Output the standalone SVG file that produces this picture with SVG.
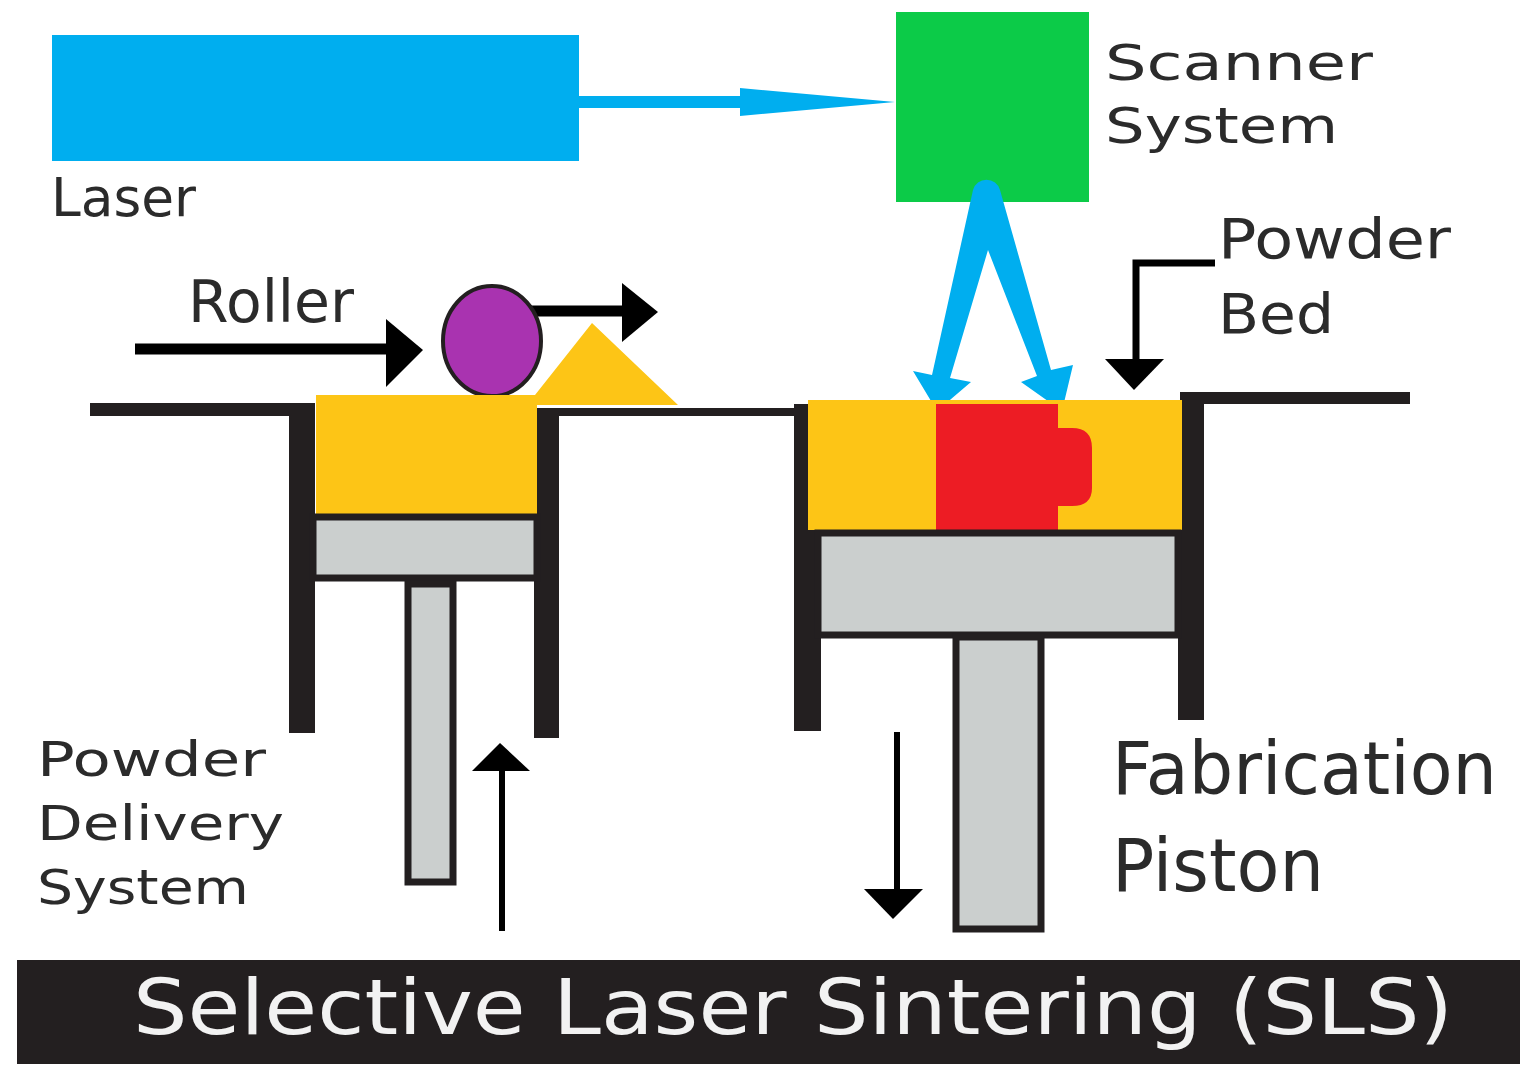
<svg xmlns="http://www.w3.org/2000/svg" width="1534" height="1086" viewBox="0 0 1534 1086">
<style>
text{font-family:"DejaVu Sans","Liberation Sans",sans-serif;fill:#2b2b2b}
.w{fill:#231f20}
.p{fill:#cbcfce;stroke:#231f20;stroke-width:7}
.y{fill:#fdc516}
.b{fill:#00aeef}
.k{fill:none;stroke:#000;stroke-width:11}
.ar{fill:#000}
</style>
<rect width="1534" height="1086" fill="#fff"/>
<g id="laser"><rect x="52" y="35" width="527" height="126" fill="#00aeef"/><text x="51" y="216" font-size="54" textLength="145" lengthAdjust="spacingAndGlyphs">Laser</text></g>
<g id="scanner"><rect x="896" y="12" width="193" height="190" fill="#0ccb48"/><text x="1105" y="80" font-size="50" textLength="268" lengthAdjust="spacingAndGlyphs">Scanner</text><text x="1105" y="143" font-size="50" textLength="233" lengthAdjust="spacingAndGlyphs">System</text></g>
<g id="connectors">
<path class="b" d="M579 96H740V88L895 102L740 116V108H579Z"/>
<path class="b" d="M973 190A14 14 0 0 1 1000 190L1051 370L1073 365L1062 411L1021 382L1037 376L988 250L950 378L971 382L937 411L913 371L932 375Z"/>
<path class="k" d="M135 349H395"/><path class="ar" d="M386 319L423 350L386 387Z"/>
<path class="k" d="M525 311H632"/><path class="ar" d="M622 283L658 312L622 342Z"/>
<path d="M1215 263H1136V365" fill="none" stroke="#000" stroke-width="7"/><path class="ar" d="M1105 359H1164L1134 390Z"/>
<path d="M502 931V765" stroke="#000" stroke-width="6"/><path class="ar" d="M472 771L500 743L530 771Z"/>
<path d="M897 732V892" stroke="#000" stroke-width="6"/><path class="ar" d="M864 889H923L893 919Z"/>
</g>
<g id="roller"><ellipse cx="492" cy="341" rx="49" ry="55" fill="#a933b0" stroke="#231f20" stroke-width="4"/><text x="188" y="322" font-size="58" textLength="166" lengthAdjust="spacingAndGlyphs">Roller</text></g>
<g id="powder-delivery">
<path class="y" d="M316 395H537V515H316ZM535 395L592 323L678 405H535Z"/>
<path class="w" d="M90 403H315V733H289V416H90ZM537 408H794V416H559V738H534V515H537Z"/>
<rect class="p" x="313" y="517" width="224" height="61"/>
<rect class="p" x="408" y="584" width="45" height="298"/>
<text x="37" y="776" font-size="48" textLength="229" lengthAdjust="spacingAndGlyphs">Powder</text><text x="37" y="840" font-size="48" textLength="247" lengthAdjust="spacingAndGlyphs">Delivery</text><text x="37" y="904" font-size="48" textLength="212" lengthAdjust="spacingAndGlyphs">System</text>
</g>
<g id="powder-bed">
<rect class="y" x="808" y="400" width="374" height="130"/>
<path d="M936 404H1058V428H1072Q1092 428 1092 448V488Q1092 506 1072 506H1058V534H936Z" fill="#ed1c24"/>
<path class="w" d="M794 404H808V530H821V731H794ZM1180 392H1410V404H1204V720H1178V530H1182V400H1180Z"/>
<text x="1218" y="258" font-size="56" textLength="233" lengthAdjust="spacingAndGlyphs">Powder</text><text x="1218" y="333" font-size="56" textLength="116" lengthAdjust="spacingAndGlyphs">Bed</text>
</g>
<g id="fabrication-piston">
<rect class="p" x="818" y="533" width="360" height="102"/>
<rect class="p" x="956" y="637" width="85" height="292"/>
<text x="1112" y="794" font-size="73" textLength="385" lengthAdjust="spacingAndGlyphs">Fabrication</text><text x="1112" y="891" font-size="73" textLength="212" lengthAdjust="spacingAndGlyphs">Piston</text>
</g>
<g id="title"><rect x="17" y="960" width="1503" height="104" fill="#231f20"/><text x="133" y="1034" font-size="76" textLength="1320" lengthAdjust="spacingAndGlyphs" style="fill:#f2f2f2">Selective Laser Sintering (SLS)</text></g>
</svg>
